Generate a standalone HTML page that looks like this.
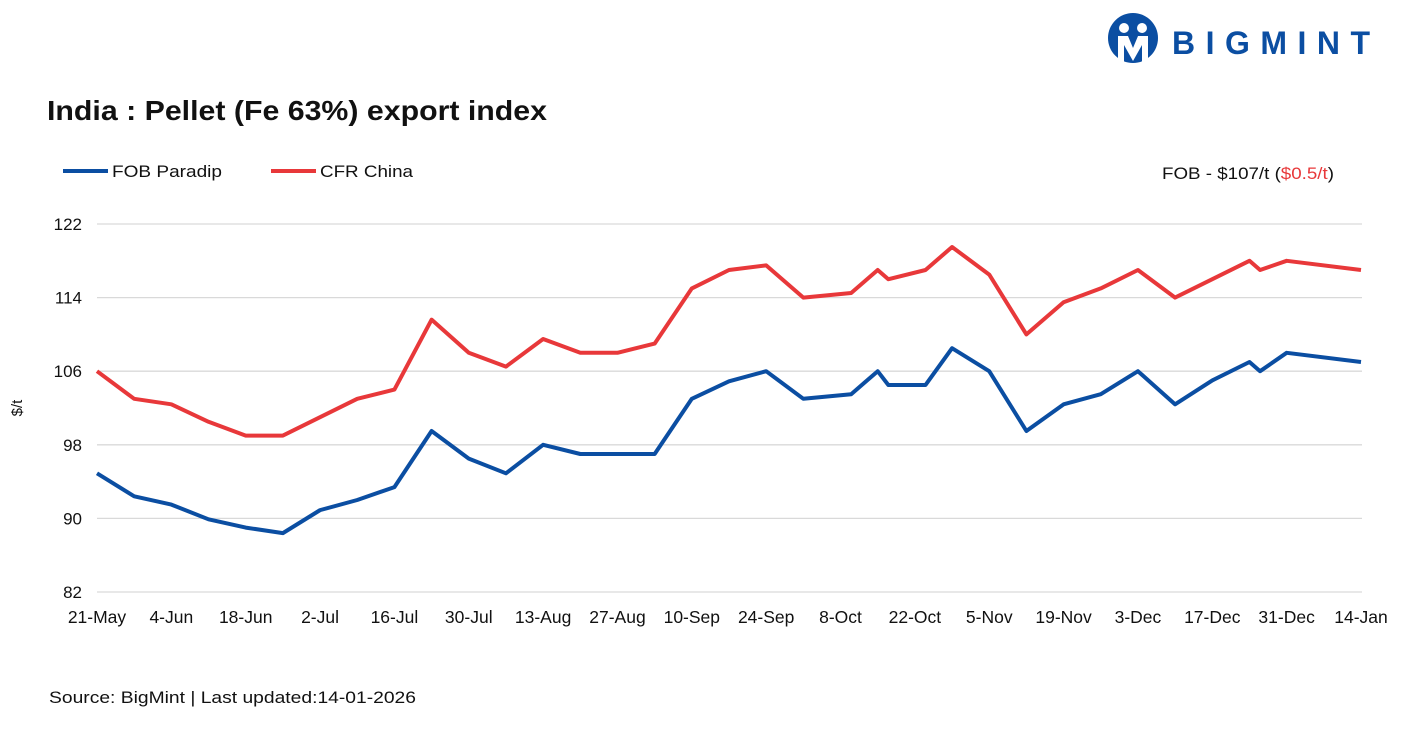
<!DOCTYPE html>
<html><head><meta charset="utf-8"><style>
body{margin:0;background:#fff;width:1424px;height:740px;overflow:hidden;font-family:"Liberation Sans",sans-serif;}
</style></head><body>
<svg width="1424" height="740" xmlns="http://www.w3.org/2000/svg">
<g>
<circle cx="1133" cy="38" r="25" fill="#0b4ea2"/>
<circle cx="1124" cy="28" r="5" fill="#fff"/><circle cx="1142" cy="28" r="5" fill="#fff"/>
<path d="M1118 36 h10 l5 12 l5 -12 h10 v27 h-6 v-18 l-9 16 l-9 -16 v18 h-6z" fill="#fff"/>
<text x="1172" y="54" font-size="32" font-weight="bold" fill="#0b4ea2" textLength="198" lengthAdjust="spacing">BIGMINT</text>
</g>
<text x="47" y="120" font-size="28" font-weight="bold" fill="#111" textLength="500" lengthAdjust="spacingAndGlyphs">India : Pellet (Fe 63%) export index</text>
<g>
<line x1="63" y1="171" x2="108" y2="171" stroke="#0b4ea2" stroke-width="4"/>
<text x="112" y="177" font-size="17" fill="#111" textLength="110" lengthAdjust="spacingAndGlyphs">FOB Paradip</text>
<line x1="271" y1="171" x2="316" y2="171" stroke="#e8383a" stroke-width="4"/>
<text x="320" y="177" font-size="17" fill="#111" textLength="93" lengthAdjust="spacingAndGlyphs">CFR China</text>
</g>
<text x="1162" y="179" font-size="17" fill="#111" textLength="172" lengthAdjust="spacingAndGlyphs">FOB - $107/t (<tspan fill="#e8383a">$0.5/t</tspan>)</text>
<text transform="translate(22,408) rotate(-90)" font-size="15" text-anchor="middle" fill="#111">$/t</text>
<g id="grid"></g><g id="series"></g>
<text x="49" y="703" font-size="17" fill="#111" textLength="367" lengthAdjust="spacingAndGlyphs">Source: BigMint | Last updated:14-01-2026</text>
</svg>
<script>
const days=[0,7,14,21,28,35,42,49,56,63,70,77,84,91,98,105,112,119,126,133,142,147,149,156,161,168,175,182,189,196,203,210,217,219,224,238];
const fob=[94.9,92.4,91.5,89.9,89,88.4,90.9,92,93.4,99.5,96.5,94.9,98,97,97,97,103,104.9,106,103,103.5,106,104.5,104.5,108.5,106,99.5,102.4,103.5,106,102.4,105,107,106,108,107];
const cfr=[106,103,102.4,100.5,99,99,101,103,104,111.6,108,106.5,109.5,108,108,109,115,117,117.5,114,114.5,117,116,117,119.5,116.5,110,113.5,115,117,114,116,118,117,118,117];
const yTicks=[82,90,98,106,114,122];
const xLabels=["21-May","4-Jun","18-Jun","2-Jul","16-Jul","30-Jul","13-Aug","27-Aug","10-Sep","24-Sep","8-Oct","22-Oct","5-Nov","19-Nov","3-Dec","17-Dec","31-Dec","14-Jan"];
const NS="http://www.w3.org/2000/svg";
const X=d=>97+d*(1264/238), Y=v=>592-(v-82)*9.2;
const g=document.getElementById('grid'), s=document.getElementById('series');
yTicks.forEach(v=>{
 const l=document.createElementNS(NS,'line');
 
 
 l.setAttribute('x1',97);l.setAttribute('x2',1362);l.setAttribute('y1',Y(v));l.setAttribute('y2',Y(v));
 l.setAttribute('stroke','#d9d9d9');l.setAttribute('stroke-width','1.3');g.appendChild(l);
 const t=document.createElementNS(NS,'text');
 
 
 t.setAttribute('x',82);t.setAttribute('y',Y(v)+6);t.setAttribute('text-anchor','end');t.setAttribute('font-size','17');t.setAttribute('fill','#111');
 t.textContent=v;g.appendChild(t);
});
xLabels.forEach((lab,i)=>{
 const t=document.createElementNS(NS,'text');
 
 
 t.setAttribute('x',X(i*14));t.setAttribute('y',623);t.setAttribute('text-anchor','middle');t.setAttribute('font-size','17.5');t.setAttribute('fill','#111');
 t.textContent=lab;g.appendChild(t);
});
function line(vals,color,name){
 const p=document.createElementNS(NS,'polyline');
 
 
 p.setAttribute('points',vals.map((v,i)=>X(days[i])+','+Y(v)).join(' '));
 p.setAttribute('fill','none');p.setAttribute('stroke',color);p.setAttribute('stroke-width','4');p.setAttribute('stroke-linejoin','round');
 s.appendChild(p);
}
line(cfr,'#e8383a','cfr-china-line');
line(fob,'#0b4ea2','fob-paradip-line');
</script>
</body></html>
